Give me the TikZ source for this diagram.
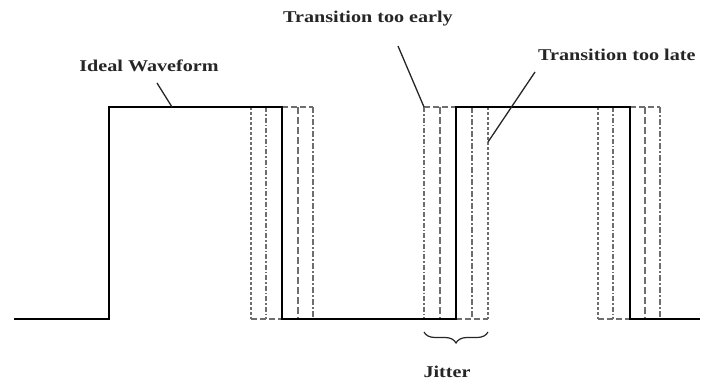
\documentclass[tikz,border=0pt]{standalone}
\usepackage{fontspec}
\usetikzlibrary{decorations.pathreplacing}
\newfontfamily\lblfont[FakeStretch=1.22]{Liberation Serif}
\definecolor{jit}{HTML}{6E6E6E}
\tikzset{
  wave/.style={line width=2bp, black, line join=miter},
  lbl/.style={font=\lblfont\bfseries\fontsize{16.5bp}{18bp}\selectfont, inner sep=0pt, text=black!85},
  leader/.style={line width=1.3bp, black!85},
  jshort/.style={jit, line width=1.3bp, dash pattern=on 3bp off 2bp},
  jdot/.style={jit, line width=1.3bp, dash pattern=on 5bp off 2bp on 1.5bp off 2bp},
  jlong/.style={jit, line width=1.3bp, dash pattern=on 7bp off 3bp},
  jdot2/.style={jit, line width=1.3bp, dash pattern=on 6bp off 2bp on 2bp off 2bp},
  jedge/.style={jit, line width=1.3bp, dash pattern=on 6bp off 3bp},
}
\begin{document}
\begin{tikzpicture}[x=1bp, y=-1bp]
\useasboundingbox (0,0) rectangle (714,385);
\fill[white] (0,0) rectangle (714,385);

% levels
\def\hi{107}
\def\lo{319}

% waveform corners
\coordinate (w0) at (14,\lo);
\coordinate (w1) at (109,\lo);
\coordinate (w2) at (109,\hi);
\coordinate (w3) at (282,\hi);
\coordinate (w4) at (282,\lo);
\coordinate (w5) at (456,\lo);
\coordinate (w6) at (456,\hi);
\coordinate (w7) at (630,\hi);
\coordinate (w8) at (630,\lo);
\coordinate (w9) at (700,\lo);

% jitter band around the first falling edge
\draw[jshort] (251,\hi) -- (251,\lo);
\draw[jdot]   (266,\hi) -- (266,\lo);
\draw[jlong]  (298,\hi) -- (298,\lo);
\draw[jdot2]  (313,\hi) -- (313,\lo);
\draw[jedge]  (251,\lo) -- (282,\lo);
\draw[jedge]  (282,\hi) -- (313,\hi);

% jitter band around the rising edge
\draw[jdot]   (424,\hi) -- (424,\lo);
\draw[jlong]  (440,\hi) -- (440,\lo);
\draw[jdot2]  (472,\hi) -- (472,\lo);
\draw[jshort] (488,\hi) -- (488,\lo);
\draw[jedge]  (424,\hi) -- (456,\hi);
\draw[jedge]  (456,\lo) -- (488,\lo);

% jitter band around the second falling edge
\draw[jshort] (598,\hi) -- (598,\lo);
\draw[jdot]   (613,\hi) -- (613,\lo);
\draw[jlong]  (645,\hi) -- (645,\lo);
\draw[jdot2]  (660,\hi) -- (660,\lo);
\draw[jedge]  (598,\lo) -- (630,\lo);
\draw[jedge]  (630,\hi) -- (660,\hi);

% ideal waveform
\draw[wave] (w0) -- (w1) -- (w2) -- (w3) -- (w4) -- (w5) -- (w6) -- (w7) -- (w8) -- (w9);

% labels
\node[lbl, anchor=base] (ideal) at (149,71) {Ideal Waveform};
\node[lbl, anchor=base east] (early) at (453,22) {Transition too early};
\node[lbl, anchor=base west] (late) at (538,60) {Transition too late};
\node[lbl, anchor=base] (jitter) at (447,377) {Jitter};

% leader lines
\coordinate (idealS) at (157,83);
\coordinate (idealE) at (172,\hi);
\coordinate (earlyS) at (398,46);
\coordinate (earlyE) at (424,\hi);
\coordinate (lateS) at (535,72);
\coordinate (lateE) at (488,142);
\draw[leader] (idealS) -- (idealE);
\draw[leader] (earlyS) -- (earlyE);
\draw[leader] (lateS) -- (lateE);

% brace under the jitter band
\coordinate (bl) at (424,332);
\coordinate (br) at (488,332);
\draw[leader, line width=1.2bp, decorate, decoration={brace, mirror, amplitude=11bp}] (bl) -- (br);
\end{tikzpicture}
\end{document}
